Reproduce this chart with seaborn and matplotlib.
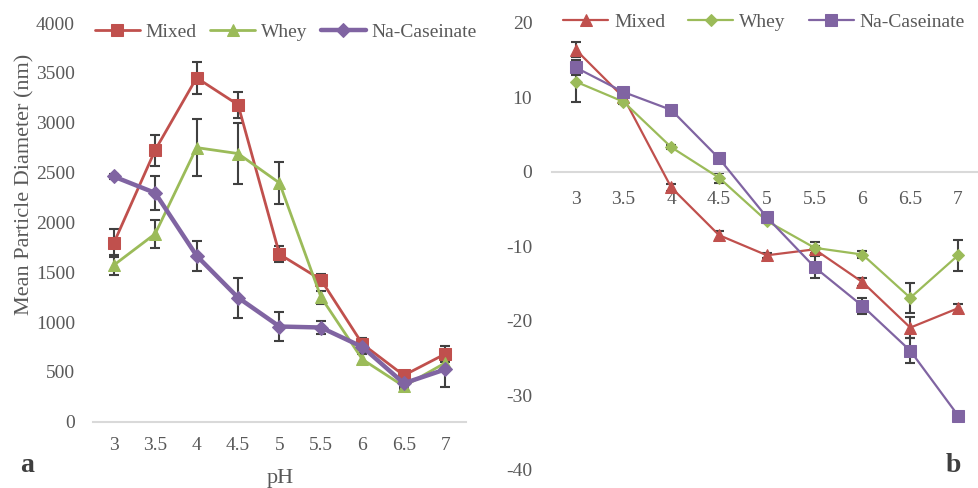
import matplotlib
matplotlib.use("Agg")
import matplotlib.pyplot as plt
import seaborn as sns
import pandas as pd

# ---- data ----
ph = [3, 3.5, 4, 4.5, 5, 5.5, 6, 6.5, 7]
ph_labels = ["3", "3.5", "4", "4.5", "5", "5.5", "6", "6.5", "7"]

mixed_size = [1790, 2725, 3450, 3180, 1680, 1425, 780, 465, 680]
mixed_size_err = [140, 155, 160, 130, 80, 60, 60, 40, 80]
whey_size = [1570, 1885, 2750, 2690, 2395, 1250, 625, 355, 590]
whey_size_err = [100, 140, 290, 310, 215, 65, 50, 30, 60]
cas_size = [2460, 2295, 1665, 1245, 955, 945, 750, 385, 525]
cas_size_err = [30, 170, 150, 200, 145, 70, 60, 40, 175]

mixed_zeta = [16.4, 10.0, -2.1, -8.5, -11.2, -10.4, -14.8, -20.9, -18.3]
mixed_zeta_err = [1.0, 0.3, 0.5, 0.6, 0.3, 0.5, 0.5, 1.4, 0.6]
whey_zeta = [12.1, 9.4, 3.3, -0.8, -6.6, -10.2, -11.1, -16.9, -11.2]
whey_zeta_err = [2.8, 0.3, 0.3, 0.7, 0.3, 0.8, 0.5, 2.0, 2.1]
cas_zeta = [14.0, 10.7, 8.3, 1.8, -6.1, -12.8, -18.0, -24.0, -32.7]
cas_zeta_err = [1.0, 0.3, 0.3, 0.3, 0.5, 1.5, 1.1, 1.7, 0.3]

series_names = ["Mixed", "Whey", "Na-Caseinate"]
size_ticks = [0, 500, 1000, 1500, 2000, 2500, 3000, 3500, 4000]
zeta_ticks = [-40, -30, -20, -10, 0, 10, 20]

RED = "#C0504D"
GREEN = "#9BBB59"
PURPLE = "#8064A2"
TXT = "#595959"
GRID = "#D9D9D9"
ERR = "#404040"

sns.set_theme(style="white")
plt.rcParams["font.family"] = ["Liberation Serif", "DejaVu Serif"]

fig = plt.figure(figsize=(9.79, 4.88), dpi=100)
W, H = 979, 488


def ax_rect(x0, y0, x1, y1):
    return [x0 / W, 1 - y1 / H, (x1 - x0) / W, (y1 - y0) / H]


axa = fig.add_axes(ax_rect(93, 23, 466, 421.7))
axb = fig.add_axes(ax_rect(551.7, 22.7, 982, 470))

FS = 14

# ---- panel a ----
specs_a = [
    ("Mixed", mixed_size, mixed_size_err, RED, "s", 9, 2.0),
    ("Whey", whey_size, whey_size_err, GREEN, "^", 9, 2.0),
    ("Na-Caseinate", cas_size, cas_size_err, PURPLE, "D", 7, 3.2),
]
for name, vals, errs, col, mk, ms, lw in specs_a:
    df = pd.DataFrame({"pH": ph, "v": vals})
    axa.errorbar(ph, vals, yerr=errs, fmt="none", ecolor=ERR, elinewidth=1.5,
                 capsize=3.5, capthick=1.5, zorder=2)
    sns.lineplot(data=df, x="pH", y="v", ax=axa, color=col, marker=mk,
                 markersize=ms, markeredgecolor=col, linewidth=lw, label=name,
                 zorder=3)

axa.set_xlim(2.75, 7.25)
axa.set_ylim(0, 4000)
axa.set_yticks(size_ticks)
axa.set_yticklabels([str(t) for t in size_ticks])
axa.set_xticks(ph)
axa.set_xticklabels(ph_labels)
for s in ["top", "right", "left"]:
    axa.spines[s].set_visible(False)
axa.spines["bottom"].set_color(GRID)
axa.spines["bottom"].set_linewidth(1.5)
axa.tick_params(axis="both", length=0, labelsize=FS, colors=TXT)
axa.tick_params(axis="y", pad=13)
axa.tick_params(axis="x", pad=11)
axa.set_xlabel("")
axa.set_ylabel("")
fig.text(280 / W, 1 - 478 / H, "pH", ha="center", va="center",
         fontsize=16, color=TXT)
fig.text(25 / W, 1 - 184 / H, "Mean Particle Diameter (nm)", rotation=90,
         ha="center", va="center", fontsize=16, color=TXT)
axa.legend(loc="center", bbox_to_anchor=(286 / W, 1 - 32 / H),
           bbox_transform=fig.transFigure, ncol=3, frameon=False,
           fontsize=FS, handlelength=2.3, handletextpad=0.3,
           columnspacing=0.7, labelcolor=TXT, borderaxespad=0)

# ---- panel b ----
specs_b = [
    ("Mixed", mixed_zeta, mixed_zeta_err, RED, "^", 8.5, 1.6),
    ("Whey", whey_zeta, whey_zeta_err, GREEN, "D", 6.5, 1.6),
    ("Na-Caseinate", cas_zeta, cas_zeta_err, PURPLE, "s", 8.5, 1.6),
]
for name, vals, errs, col, mk, ms, lw in specs_b:
    df = pd.DataFrame({"pH": ph, "v": vals})
    axb.errorbar(ph, vals, yerr=errs, fmt="none", ecolor=ERR, elinewidth=1.5,
                 capsize=3.5, capthick=1.5, zorder=2)
    sns.lineplot(data=df, x="pH", y="v", ax=axb, color=col, marker=mk,
                 markersize=ms, markeredgecolor=col, linewidth=lw, label=name,
                 zorder=3)

axb.set_xlim(2.75, 7.25)
axb.set_ylim(-40, 20)
axb.set_yticks(zeta_ticks)
axb.set_yticklabels([str(t) for t in zeta_ticks])
axb.set_xticks(ph)
axb.set_xticklabels(ph_labels)
for s in ["top", "right", "left"]:
    axb.spines[s].set_visible(False)
axb.spines["bottom"].set_position(("data", 0))
axb.spines["bottom"].set_color(GRID)
axb.spines["bottom"].set_linewidth(1.5)
axb.tick_params(axis="both", length=0, labelsize=FS, colors=TXT)
axb.tick_params(axis="y", pad=14)
axb.tick_params(axis="x", pad=14)
axb.set_xlabel("")
axb.set_ylabel("")
axb.legend(loc="center", bbox_to_anchor=(764 / W, 1 - 22 / H),
           bbox_transform=fig.transFigure, ncol=3, frameon=False,
           fontsize=FS, handlelength=2.3, handletextpad=0.3,
           columnspacing=1.2, labelcolor=TXT, borderaxespad=0)

fig.text(27 / W, 1 - 466 / H, "a", fontsize=20, fontweight="bold",
         color="#3F3F3F", ha="center", va="center")
fig.text(953 / W, 1 - 466 / H, "b", fontsize=20, fontweight="bold",
         color="#3F3F3F", ha="center", va="center")

fig.savefig("out.png", dpi=100)
